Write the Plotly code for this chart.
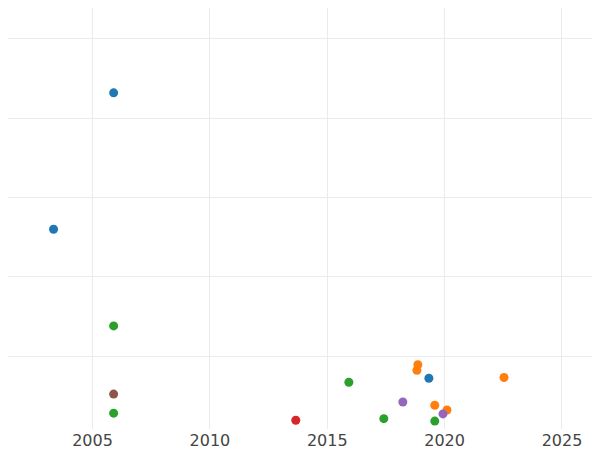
import plotly.graph_objects as go

series = {
    "blue": ([2005.9, 2003.34, 2019.33], [3.32, 1.60, -0.28], "#1f77b4"),
    "orange": ([2018.86, 2018.82, 2022.53, 2019.58, 2020.10], [-0.11, -0.18, -0.27, -0.62, -0.68], "#ff7f0e"),
    "green": ([2005.9, 2015.92, 2005.9, 2017.41, 2019.58], [0.38, -0.33, -0.72, -0.79, -0.82], "#2ca02c"),
    "red": ([2013.66], [-0.81], "#d62728"),
    "purple": ([2018.22, 2019.93], [-0.58, -0.73], "#9467bd"),
    "brown": ([2005.9], [-0.48], "#8c564b"),
}

fig = go.Figure()
for name, (xs, ys, c) in series.items():
    fig.add_trace(go.Scatter(x=xs, y=ys, mode="markers", name=name,
                             marker=dict(color=c, size=9)))

fig.update_layout(
    width=600, height=450, template="plotly_white", showlegend=False,
    margin=dict(l=0, r=0, t=0, b=29),
    font=dict(family="DejaVu Sans", size=16, color="#444"),
)
fig.update_xaxes(range=[2001.4, 2026.96], dtick=5, showgrid=True, gridcolor="#ebebeb",
                 zeroline=False, automargin=False)
fig.update_yaxes(range=[-0.92, 4.39], dtick=1, showticklabels=False, gridcolor="#ebebeb",
                 zeroline=False, automargin=False)
fig.write_html("out.html")
